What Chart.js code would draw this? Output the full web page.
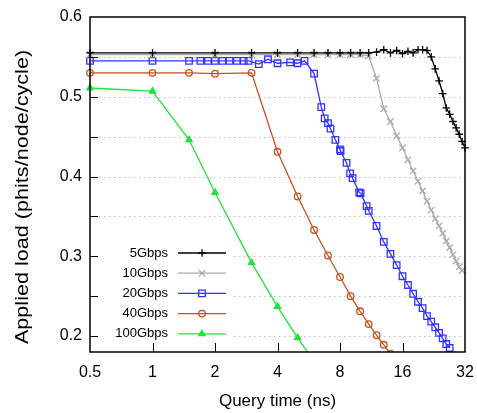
<!DOCTYPE html>
<html>
<head>
<meta charset="utf-8">
<script src="https://cdn.jsdelivr.net/npm/chart.js@4.4.0/dist/chart.umd.min.js"></script>
<style>
  html, body { margin: 0; padding: 0; background: #fff; }
  canvas { display: block; }
</style>
</head>
<body>
<canvas id="chart" width="477" height="413"></canvas>
<script>
// tick values
const xTicks = [0.5, 1, 2, 4, 8, 16, 32];
const yTicks = [0.2, 0.25, 0.3, 0.35, 0.4, 0.45, 0.5, 0.55, 0.6];

const seriesNames = ['5Gbps', '10Gbps', '20Gbps', '40Gbps', '100Gbps'];
const yTitle = 'Applied load (phits/node/cycle)';

// 5Gbps
const x5 = [0.5, 1, 2, 3, 4, 5, 6, 7, 8, 9, 10, 11, 12, 13, 14, 15, 16, 17, 18, 19, 20, 21, 22, 23, 24, 25, 26, 27, 28, 29, 30, 31, 32];
const y5 = [0.555, 0.555, 0.555, 0.555, 0.555, 0.555, 0.555, 0.555, 0.555, 0.555, 0.555, 0.555, 0.556, 0.559, 0.555, 0.558, 0.554, 0.557, 0.555, 0.559, 0.559, 0.558, 0.550, 0.535, 0.520, 0.504, 0.486, 0.478, 0.469, 0.461, 0.453, 0.444, 0.436];

// 10Gbps
const x10 = [0.5, 1, 2, 3, 4, 5, 6, 7, 8, 9, 10, 11, 12, 13, 14, 15, 16, 17, 18, 19, 20, 21, 22, 23, 24, 25, 26, 27, 28, 29, 30, 31];
const y10 = [0.553, 0.553, 0.553, 0.553, 0.553, 0.553, 0.553, 0.553, 0.553, 0.553, 0.553, 0.551, 0.523, 0.485, 0.469, 0.451, 0.436, 0.421, 0.407, 0.394, 0.382, 0.369, 0.358, 0.347, 0.338, 0.329, 0.319, 0.311, 0.302, 0.294, 0.287, 0.282];

// 20Gbps
const x20 = [0.5, 1, 1.5, 1.7, 1.85, 2, 2.17, 2.35, 2.55, 2.75, 2.9, 3.25, 3.6, 4, 4.6, 5, 5.4, 6, 6.5, 6.75, 7, 7.2, 7.6, 8, 8.05, 8.6, 8.95, 9.2, 9.9, 10.05, 10.75, 11, 12, 13, 14, 15, 16, 17, 18, 19, 20, 21, 22, 23, 24, 25, 26, 27];
const y20 = [0.545, 0.545, 0.545, 0.545, 0.545, 0.545, 0.545, 0.545, 0.545, 0.545, 0.545, 0.541, 0.547, 0.542, 0.543, 0.542, 0.545, 0.529, 0.487, 0.473, 0.467, 0.460, 0.446, 0.434, 0.432, 0.417, 0.404, 0.398, 0.380, 0.379, 0.363, 0.357, 0.338, 0.318, 0.303, 0.289, 0.275, 0.264, 0.253, 0.243, 0.235, 0.225, 0.218, 0.211, 0.204, 0.197, 0.190, 0.185];

// 40Gbps
const x40 = [0.5, 1, 1.5, 2, 3, 4, 5, 6, 7, 8, 9, 10, 11, 12, 13, 14];
const y40 = [0.530, 0.530, 0.530, 0.529, 0.530, 0.431, 0.375, 0.333, 0.301, 0.274, 0.250, 0.231, 0.215, 0.201, 0.189, 0.178];

// 100Gbps
const x100 = [0.5, 1, 1.5, 2, 3, 4, 5, 6];
const y100 = [0.511, 0.507, 0.446, 0.380, 0.292, 0.237, 0.198, 0.168];

const FONT = '"Liberation Sans", Arial, sans-serif';

function pts(xs, ys) {
  return xs.map((x, i) => ({ x: x, y: ys[i] }));
}

function series(label, xs, ys, color, style, radius, fill) {
  return {
    label: label,
    data: pts(xs, ys),
    borderColor: color,
    backgroundColor: fill ? color : 'rgba(0,0,0,0)',
    borderWidth: 1.3,
    pointStyle: style,
    pointRadius: radius,
    pointBorderColor: color,
    pointBackgroundColor: fill ? color : 'rgba(0,0,0,0)',
    pointBorderWidth: 1.3,
    tension: 0,
    clip: { left: 8, right: 8, top: 8, bottom: 0 }
  };
}

// gnuplot style frame: dotted grid, inward ticks, key, y title
const framePlugin = {
  id: 'frame',
  beforeDatasetsDraw(chart) {
    const { ctx, chartArea: a, scales } = chart;
    const ys = scales.y;
    ctx.save();
    ctx.strokeStyle = '#bdbdbd';
    ctx.lineWidth = 1;
    ctx.setLineDash([1.5, 3.5]);
    yTicks.forEach(v => {
      if (v >= 0.6) return;
      const py = Math.round(ys.getPixelForValue(v)) + 0.5;
      ctx.beginPath();
      ctx.moveTo(a.left + 9, py);
      ctx.lineTo(a.right - 3, py);
      ctx.stroke();
    });
    ctx.setLineDash([]);
    // key background hides the grid
    ctx.fillStyle = '#fff';
    ctx.fillRect(a.left + 9, 243, 134, 101);

    chart.data.datasets.forEach((ds, i) => {
      const cy = 253 + i * 20.2;
      ctx.fillStyle = '#000';
      ctx.font = '13px ' + FONT;
      ctx.textAlign = 'right';
      ctx.textBaseline = 'middle';
      ctx.fillText(ds.label, 168, cy);
      ctx.strokeStyle = ds.borderColor;
      ctx.lineWidth = ds.borderWidth;
      ctx.beginPath();
      ctx.moveTo(178, cy);
      ctx.lineTo(226, cy);
      ctx.stroke();
      ctx.fillStyle = ds.pointBackgroundColor;
      Chart.helpers.drawPoint(ctx, {
        pointStyle: ds.pointStyle,
        radius: ds.pointRadius,
        rotation: 0,
        borderWidth: ds.pointBorderWidth
      }, 202, cy);
    });

    // y title, stretched along its length like the original
    ctx.translate(23, 197);
    ctx.rotate(-Math.PI / 2);
    ctx.scale(1.2, 1);
    ctx.fillStyle = '#000';
    ctx.font = '18px ' + FONT;
    ctx.textAlign = 'center';
    ctx.textBaseline = 'middle';
    ctx.fillText(yTitle, 0, 0);
    ctx.restore();
  },
  afterDatasetsDraw(chart) {
    const { ctx, chartArea: a, scales } = chart;
    ctx.save();
    ctx.strokeStyle = '#000';
    ctx.lineWidth = 1;
    yTicks.forEach(v => {
      if (v >= 0.6) return;
      const py = Math.round(scales.y.getPixelForValue(v)) + 0.5;
      ctx.beginPath();
      ctx.moveTo(a.left, py);
      ctx.lineTo(a.left + 8, py);
      ctx.stroke();
    });
    xTicks.forEach(v => {
      if (v <= 0.5 || v >= 32) return;
      const px = Math.round(scales.x.getPixelForValue(v)) + 0.5;
      ctx.beginPath();
      ctx.moveTo(px, a.bottom);
      ctx.lineTo(px, a.bottom - 9);
      ctx.stroke();
    });
    ctx.lineWidth = 1.5;
    ctx.strokeRect(a.left, a.top, a.right - a.left, a.bottom - a.top);
    ctx.restore();
  }
};

new Chart(document.getElementById('chart'), {
  type: 'line',
  data: {
    datasets: [
      series(seriesNames[0], x5, y5, '#000000', 'cross', 3.8, false),
      series(seriesNames[1], x10, y10, '#aaaaaa', 'crossRot', 4.5, false),
      series(seriesNames[2], x20, y20, '#3333ff', 'rect', 4.6, false),
      series(seriesNames[3], x40, y40, '#c8501e', 'circle', 3.3, false),
      series(seriesNames[4], x100, y100, '#22e23a', 'triangle', 3.6, true)
    ]
  },
  options: {
    responsive: false,
    animation: false,
    layout: { padding: { left: 0, top: 17, right: 12, bottom: 0 } },
    plugins: {
      legend: { display: false },
      tooltip: { enabled: false }
    },
    scales: {
      x: {
        type: 'logarithmic',
        min: 0.5,
        max: 32,
        afterBuildTicks: s => { s.ticks = xTicks.map(v => ({ value: v })); },
        afterFit: s => { s.height = 61; s.paddingLeft = 0; s.paddingRight = 0; },
        grid: { display: false, drawTicks: false },
        border: { display: false },
        ticks: {
          autoSkip: false,
          maxRotation: 0,
          padding: 11,
          color: '#000',
          font: { family: FONT, size: 16 },
          callback: v => String(v)
        },
        title: {
          display: true,
          text: 'Query time (ns)',
          color: '#000',
          font: { family: FONT, size: 17 },
          padding: { top: 0, bottom: 1 }
        }
      },
      y: {
        type: 'linear',
        min: 0.18,
        max: 0.6,
        afterBuildTicks: s => { s.ticks = yTicks.map(v => ({ value: v })); },
        afterFit: s => { s.width = 90; s.paddingTop = 0; s.paddingBottom = 0; },
        grid: { display: false, drawTicks: false },
        border: { display: false },
        ticks: {
          padding: 8,
          color: '#000',
          font: { family: FONT, size: 16 },
          callback: v => (Math.abs(v * 10 - Math.round(v * 10)) < 1e-6 ? v.toFixed(1) : '')
        }
      }
    }
  },
  plugins: [framePlugin]
});
</script>
</body>
</html>
